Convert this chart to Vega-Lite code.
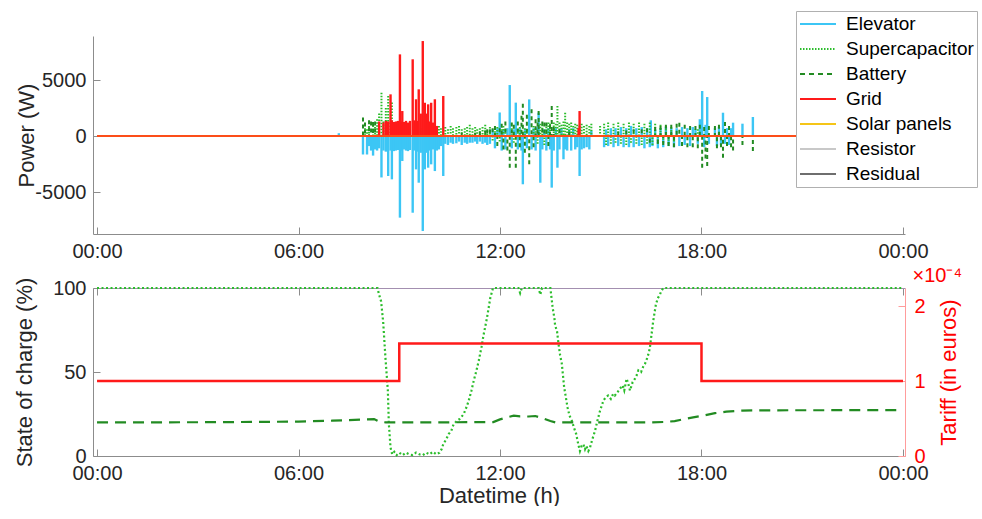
{
  "$schema": "https://vega.github.io/schema/vega-lite/v6.json",
  "padding": {"left": 13, "top": 10, "right": 0, "bottom": 0},
  "background": "white",
  "spacing": 5,
  "config": {
    "font": "Liberation Sans",
    "view": {"stroke": null},
    "axis": {
      "labelFont": "Liberation Sans", "titleFont": "Liberation Sans",
      "labelFontSize": 20, "titleFontSize": 22, "titleFontWeight": "normal",
      "labelColor": "#262626", "titleColor": "#262626",
      "domainColor": "#8c8c8c", "tickColor": "#8c8c8c", "grid": false,
      "tickSize": -7, "labelPadding": 14
    },
    "title": {"font": "Liberation Sans", "fontWeight": "normal"}
  },
  "datasets": {
    "power": [
      {"t": 7.2, "Elevator": 250},
      {"t": 7.92, "Elevator": -1650, "Battery": 1650},
      {"t": 7.98, "Supercapacitor": 700, "Battery": 1200},
      {"t": 8.04, "Elevator": -1650, "Supercapacitor": 600},
      {"t": 8.1, "Elevator": -900, "Supercapacitor": 900, "Battery": 1400},
      {"t": 8.16, "Elevator": -1300, "Battery": 1300},
      {"t": 8.22, "Elevator": -1750, "Supercapacitor": 1200, "Battery": 1250},
      {"t": 8.28, "Elevator": -1200, "Supercapacitor": 800, "Battery": 1300},
      {"t": 8.34, "Elevator": -1300, "Supercapacitor": 1500},
      {"t": 8.4, "Elevator": -1100, "Supercapacitor": 2000, "Grid": 1300},
      {"t": 8.47, "Elevator": -3700, "Supercapacitor": 3870},
      {"t": 8.53, "Elevator": -1300, "Supercapacitor": 1300, "Grid": 1200},
      {"t": 8.6, "Elevator": -1400, "Supercapacitor": 2500, "Grid": 1350},
      {"t": 8.67, "Elevator": -3570, "Supercapacitor": 3570, "Grid": 1300},
      {"t": 8.74, "Elevator": -1300, "Supercapacitor": 1200, "Grid": 3720},
      {"t": 8.78, "Elevator": -3870, "Supercapacitor": 3000, "Grid": 1400},
      {"t": 8.84, "Elevator": -1350, "Supercapacitor": 1100, "Grid": 1250},
      {"t": 8.9, "Elevator": -1300, "Supercapacitor": 1000, "Grid": 1300},
      {"t": 8.96, "Elevator": -1250, "Supercapacitor": 900, "Grid": 1350},
      {"t": 9.02, "Elevator": -7290, "Grid": 7290},
      {"t": 9.06, "Elevator": -1300, "Supercapacitor": 800, "Grid": 1300},
      {"t": 9.09, "Elevator": -2230, "Grid": 2230},
      {"t": 9.14, "Elevator": -1200, "Supercapacitor": 700, "Grid": 1250},
      {"t": 9.2, "Elevator": -1300, "Supercapacitor": 900, "Grid": 1350},
      {"t": 9.26, "Elevator": -1350, "Supercapacitor": 700, "Grid": 1200},
      {"t": 9.32, "Elevator": -1250, "Supercapacitor": 800, "Grid": 1350},
      {"t": 9.4, "Elevator": -6850, "Grid": 6850},
      {"t": 9.45, "Elevator": -1300, "Supercapacitor": 900, "Grid": 1400},
      {"t": 9.5, "Elevator": -2980, "Grid": 3280},
      {"t": 9.55, "Elevator": -1400, "Supercapacitor": 600, "Grid": 1350},
      {"t": 9.58, "Elevator": -4170, "Grid": 4170},
      {"t": 9.64, "Elevator": -1500, "Supercapacitor": 700, "Grid": 2000},
      {"t": 9.7, "Elevator": -8480, "Grid": 8480},
      {"t": 9.76, "Elevator": -2980, "Grid": 2970},
      {"t": 9.81, "Elevator": -1500, "Grid": 2000},
      {"t": 9.86, "Elevator": -2830, "Grid": 2830},
      {"t": 9.91, "Elevator": -1300, "Supercapacitor": 800, "Grid": 1300},
      {"t": 9.95, "Elevator": -2530, "Grid": 2970},
      {"t": 10.01, "Elevator": -1200, "Supercapacitor": 700, "Grid": 1200},
      {"t": 10.06, "Elevator": -3130, "Grid": 3280},
      {"t": 10.12, "Elevator": -1300, "Supercapacitor": 600, "Grid": 900},
      {"t": 10.18, "Elevator": -1200, "Supercapacitor": 900},
      {"t": 10.24, "Elevator": -900, "Supercapacitor": 700},
      {"t": 10.31, "Elevator": -3570, "Grid": 3570},
      {"t": 10.37, "Elevator": -700, "Supercapacitor": 800},
      {"t": 10.45, "Elevator": -800, "Supercapacitor": 600},
      {"t": 10.53, "Elevator": -600, "Supercapacitor": 900},
      {"t": 10.6, "Elevator": -700, "Supercapacitor": 700},
      {"t": 10.7, "Elevator": -650, "Supercapacitor": 800},
      {"t": 10.78, "Elevator": -500, "Supercapacitor": 900},
      {"t": 10.86, "Elevator": -800, "Supercapacitor": 600, "Battery": 300},
      {"t": 10.95, "Elevator": -600, "Supercapacitor": 700},
      {"t": 11.02, "Elevator": -700, "Supercapacitor": 800},
      {"t": 11.1, "Elevator": -600, "Supercapacitor": 1000},
      {"t": 11.18, "Elevator": -600, "Supercapacitor": 700},
      {"t": 11.26, "Elevator": -500, "Supercapacitor": 800, "Battery": 300},
      {"t": 11.32, "Elevator": -700, "Supercapacitor": 600},
      {"t": 11.4, "Elevator": -500, "Supercapacitor": 700, "Battery": 400},
      {"t": 11.48, "Elevator": -700, "Supercapacitor": 800},
      {"t": 11.56, "Elevator": -600, "Supercapacitor": 1000, "Battery": 500},
      {"t": 11.62, "Elevator": -800, "Supercapacitor": 500, "Battery": 600},
      {"t": 11.7, "Elevator": -700, "Supercapacitor": 800, "Battery": 600},
      {"t": 11.78, "Elevator": 600, "Supercapacitor": -400, "Battery": 700},
      {"t": 11.85, "Elevator": -1100, "Supercapacitor": 700, "Battery": 900},
      {"t": 11.92, "Elevator": 700, "Supercapacitor": 800, "Battery": -900},
      {"t": 11.99, "Elevator": 2100, "Supercapacitor": -500, "Battery": 700},
      {"t": 12.05, "Elevator": -1300, "Supercapacitor": 600, "Battery": 1100},
      {"t": 12.1, "Elevator": 600, "Supercapacitor": 900, "Battery": -1200},
      {"t": 12.16, "Elevator": -1200, "Supercapacitor": 600, "Battery": 1300},
      {"t": 12.22, "Elevator": 700, "Battery": -1300},
      {"t": 12.29, "Elevator": 4550, "Battery": -2830},
      {"t": 12.35, "Elevator": -1100, "Supercapacitor": 700, "Battery": 1200},
      {"t": 12.41, "Elevator": 600, "Supercapacitor": -600, "Battery": 1000},
      {"t": 12.47, "Elevator": 2980, "Battery": -2830},
      {"t": 12.53, "Elevator": -1200, "Supercapacitor": 600, "Battery": 1300},
      {"t": 12.59, "Elevator": 700, "Supercapacitor": 800, "Battery": -1000},
      {"t": 12.64, "Elevator": -1300, "Battery": 1800},
      {"t": 12.68, "Elevator": -4310, "Battery": 2890},
      {"t": 12.74, "Elevator": 600, "Supercapacitor": 700, "Battery": -1500},
      {"t": 12.8, "Elevator": -1100, "Supercapacitor": 600, "Battery": 1900},
      {"t": 12.87, "Elevator": 3270, "Battery": -2530},
      {"t": 12.94, "Elevator": -1200, "Battery": 2380},
      {"t": 13.0, "Elevator": 700, "Supercapacitor": 900, "Battery": -1000},
      {"t": 13.06, "Elevator": -1300, "Supercapacitor": 700, "Battery": 1500},
      {"t": 13.12, "Elevator": 800, "Supercapacitor": -700, "Battery": 1200},
      {"t": 13.15, "Elevator": 2080, "Battery": 2230},
      {"t": 13.2, "Elevator": -4170, "Supercapacitor": 1100},
      {"t": 13.26, "Elevator": -1200, "Supercapacitor": 1000, "Battery": 1300},
      {"t": 13.32, "Elevator": 600, "Supercapacitor": -800, "Battery": 1200},
      {"t": 13.38, "Elevator": -1300, "Supercapacitor": 1100, "Battery": 1200},
      {"t": 13.44, "Elevator": 700, "Supercapacitor": 1200, "Battery": -900},
      {"t": 13.49, "Elevator": -1200, "Supercapacitor": 1100, "Battery": 1000},
      {"t": 13.54, "Elevator": -4610, "Battery": 2680},
      {"t": 13.6, "Elevator": -1300, "Supercapacitor": 1200, "Battery": 800},
      {"t": 13.66, "Elevator": 700, "Supercapacitor": 1100},
      {"t": 13.71, "Elevator": -2830, "Supercapacitor": 2680},
      {"t": 13.77, "Elevator": -1200, "Supercapacitor": 1200, "Battery": 600},
      {"t": 13.83, "Elevator": 700, "Supercapacitor": 1000},
      {"t": 13.89, "Elevator": -2080, "Supercapacitor": 1300},
      {"t": 13.94, "Elevator": -1200, "Supercapacitor": 2080},
      {"t": 14.0, "Elevator": -1300, "Supercapacitor": 1200},
      {"t": 14.06, "Elevator": 600, "Supercapacitor": 1100, "Battery": 400},
      {"t": 14.12, "Elevator": -1300, "Supercapacitor": 1200},
      {"t": 14.18, "Elevator": 700, "Supercapacitor": 900},
      {"t": 14.24, "Elevator": -1200, "Supercapacitor": 1100},
      {"t": 14.3, "Elevator": -1000, "Supercapacitor": 1000},
      {"t": 14.34, "Grid": 700},
      {"t": 14.37, "Elevator": -3570, "Supercapacitor": 900, "Grid": 2230},
      {"t": 14.43, "Elevator": -1200, "Supercapacitor": 1100},
      {"t": 14.5, "Elevator": -1100, "Supercapacitor": 900},
      {"t": 14.58, "Elevator": -1000, "Supercapacitor": 1000},
      {"t": 14.66, "Elevator": -1200, "Supercapacitor": 900},
      {"t": 14.72, "Elevator": 500, "Supercapacitor": 1100},
      {"t": 14.98, "Supercapacitor": 900},
      {"t": 15.1, "Elevator": -1000, "Supercapacitor": 1100},
      {"t": 15.16, "Elevator": 600, "Supercapacitor": -800},
      {"t": 15.22, "Elevator": -900, "Supercapacitor": 1200},
      {"t": 15.3, "Elevator": 700, "Supercapacitor": -700},
      {"t": 15.38, "Elevator": -1000, "Supercapacitor": 1100},
      {"t": 15.44, "Elevator": 700, "Supercapacitor": -600},
      {"t": 15.52, "Elevator": -900, "Supercapacitor": 1200, "Battery": 400},
      {"t": 15.6, "Elevator": 800, "Supercapacitor": -700},
      {"t": 15.68, "Elevator": -1000, "Supercapacitor": 1100},
      {"t": 15.76, "Elevator": 700, "Supercapacitor": -800, "Battery": 500},
      {"t": 15.84, "Elevator": -1000, "Supercapacitor": 1200},
      {"t": 15.9, "Elevator": 900, "Supercapacitor": -600},
      {"t": 15.98, "Elevator": -1000, "Supercapacitor": 1100, "Battery": 600},
      {"t": 16.06, "Elevator": 700, "Supercapacitor": -700},
      {"t": 16.14, "Elevator": -900, "Supercapacitor": 1200},
      {"t": 16.22, "Elevator": 800, "Supercapacitor": -800, "Battery": 600},
      {"t": 16.3, "Elevator": -1100, "Supercapacitor": 1100},
      {"t": 16.38, "Elevator": 700, "Supercapacitor": -700, "Battery": 700},
      {"t": 16.46, "Elevator": -1000, "Supercapacitor": 1200, "Battery": -600},
      {"t": 16.49, "Elevator": 1400},
      {"t": 16.54, "Elevator": -900, "Supercapacitor": -800},
      {"t": 16.62, "Elevator": 600, "Supercapacitor": 1100, "Battery": 800},
      {"t": 16.7, "Elevator": -1100, "Supercapacitor": -700, "Battery": -700},
      {"t": 16.78, "Elevator": 700, "Supercapacitor": 1000, "Battery": 900},
      {"t": 16.86, "Elevator": -1000, "Supercapacitor": -600, "Battery": -800},
      {"t": 16.94, "Elevator": 800, "Supercapacitor": 900, "Battery": 1000},
      {"t": 17.02, "Elevator": -900, "Supercapacitor": -700, "Battery": -900},
      {"t": 17.1, "Elevator": 700, "Supercapacitor": 800, "Battery": 1000},
      {"t": 17.18, "Elevator": -1000, "Supercapacitor": -500, "Battery": -1000},
      {"t": 17.26, "Elevator": 700, "Battery": 1100},
      {"t": 17.34, "Elevator": -900, "Battery": 1190},
      {"t": 17.42, "Elevator": 800, "Battery": -900},
      {"t": 17.5, "Elevator": -800, "Battery": 1000},
      {"t": 17.58, "Elevator": 700, "Battery": -1000},
      {"t": 17.66, "Elevator": -900, "Battery": 900},
      {"t": 17.74, "Elevator": 800, "Battery": -1000},
      {"t": 17.82, "Elevator": 600, "Battery": 900},
      {"t": 17.89, "Elevator": -700, "Supercapacitor": 600, "Battery": -1100},
      {"t": 17.95, "Elevator": 1500, "Battery": 1000},
      {"t": 18.02, "Elevator": 4020, "Battery": -2830},
      {"t": 18.08, "Elevator": -1000, "Battery": 800},
      {"t": 18.12, "Elevator": 1000, "Battery": -2000},
      {"t": 18.17, "Elevator": 3480, "Battery": -2680},
      {"t": 18.22, "Elevator": -700, "Battery": 900},
      {"t": 18.4, "Elevator": 700, "Battery": 900},
      {"t": 18.46, "Elevator": -900, "Battery": -1100},
      {"t": 18.52, "Elevator": 800, "Battery": 1000},
      {"t": 18.58, "Elevator": -800, "Battery": -1000},
      {"t": 18.64, "Elevator": 2080, "Battery": -1940},
      {"t": 18.7, "Elevator": -700, "Battery": 1250},
      {"t": 18.76, "Elevator": 700, "Battery": -900},
      {"t": 18.82, "Elevator": -800, "Battery": 900},
      {"t": 18.88, "Elevator": 700, "Battery": -1000},
      {"t": 18.94, "Elevator": 1190, "Battery": -1300},
      {"t": 19.22, "Elevator": 1100, "Battery": -800},
      {"t": 19.53, "Elevator": 1700, "Battery": -1340}
    ],
    "flat": [
      {"t": 0, "Grid": 0, "Solar": 0, "Resistor": 0, "Residual": 0},
      {"t": 24, "Grid": 0, "Solar": 0, "Resistor": 0, "Residual": 0}
    ],
    "supercapSOC": [
      {"t": 0, "soc": 100}, {"t": 8.35, "soc": 100}, {"t": 8.4, "soc": 96}, {"t": 8.46, "soc": 92},
      {"t": 8.52, "soc": 80}, {"t": 8.59, "soc": 58}, {"t": 8.66, "soc": 39}, {"t": 8.69, "soc": 19},
      {"t": 8.74, "soc": 5}, {"t": 8.79, "soc": 1}, {"t": 8.85, "soc": 2.5}, {"t": 8.92, "soc": 0.5},
      {"t": 9.0, "soc": 2}, {"t": 9.1, "soc": 0.5}, {"t": 9.2, "soc": 2}, {"t": 9.3, "soc": 1},
      {"t": 9.4, "soc": 0.5}, {"t": 9.5, "soc": 2}, {"t": 9.6, "soc": 1}, {"t": 9.7, "soc": 0.5},
      {"t": 9.8, "soc": 2}, {"t": 9.9, "soc": 1}, {"t": 10.0, "soc": 2.5}, {"t": 10.1, "soc": 1},
      {"t": 10.2, "soc": 2}, {"t": 10.26, "soc": 4}, {"t": 10.31, "soc": 7}, {"t": 10.4, "soc": 10},
      {"t": 10.47, "soc": 13}, {"t": 10.55, "soc": 15}, {"t": 10.62, "soc": 19}, {"t": 10.72, "soc": 21},
      {"t": 10.8, "soc": 22}, {"t": 10.92, "soc": 25}, {"t": 11.0, "soc": 29}, {"t": 11.07, "soc": 33},
      {"t": 11.15, "soc": 39}, {"t": 11.22, "soc": 45}, {"t": 11.3, "soc": 51}, {"t": 11.37, "soc": 57},
      {"t": 11.45, "soc": 65}, {"t": 11.51, "soc": 72}, {"t": 11.56, "soc": 77}, {"t": 11.61, "soc": 82},
      {"t": 11.66, "soc": 88}, {"t": 11.71, "soc": 94}, {"t": 11.79, "soc": 100}, {"t": 12.55, "soc": 100},
      {"t": 12.6, "soc": 97}, {"t": 12.65, "soc": 100}, {"t": 13.15, "soc": 100}, {"t": 13.2, "soc": 96},
      {"t": 13.25, "soc": 100}, {"t": 13.5, "soc": 100}, {"t": 13.57, "soc": 88}, {"t": 13.62, "soc": 82},
      {"t": 13.64, "soc": 78}, {"t": 13.7, "soc": 74}, {"t": 13.74, "soc": 67}, {"t": 13.79, "soc": 60},
      {"t": 13.84, "soc": 55}, {"t": 13.91, "soc": 41}, {"t": 13.96, "soc": 35}, {"t": 14.01, "soc": 29},
      {"t": 14.07, "soc": 24}, {"t": 14.14, "soc": 21}, {"t": 14.2, "soc": 17}, {"t": 14.27, "soc": 13},
      {"t": 14.33, "soc": 7}, {"t": 14.38, "soc": 3}, {"t": 14.43, "soc": 6}, {"t": 14.48, "soc": 7},
      {"t": 14.53, "soc": 4}, {"t": 14.57, "soc": 6}, {"t": 14.63, "soc": 3}, {"t": 14.68, "soc": 5},
      {"t": 14.75, "soc": 10}, {"t": 14.83, "soc": 15}, {"t": 14.9, "soc": 21}, {"t": 14.98, "soc": 27},
      {"t": 15.08, "soc": 33}, {"t": 15.15, "soc": 35}, {"t": 15.22, "soc": 36}, {"t": 15.3, "soc": 34},
      {"t": 15.37, "soc": 37}, {"t": 15.42, "soc": 36}, {"t": 15.5, "soc": 38}, {"t": 15.57, "soc": 40},
      {"t": 15.65, "soc": 42}, {"t": 15.7, "soc": 39}, {"t": 15.77, "soc": 46}, {"t": 15.82, "soc": 43},
      {"t": 15.87, "soc": 39}, {"t": 15.95, "soc": 44}, {"t": 16.02, "soc": 46}, {"t": 16.07, "soc": 48},
      {"t": 16.12, "soc": 51}, {"t": 16.2, "soc": 50}, {"t": 16.26, "soc": 53}, {"t": 16.32, "soc": 55},
      {"t": 16.36, "soc": 57}, {"t": 16.41, "soc": 60}, {"t": 16.46, "soc": 64}, {"t": 16.51, "soc": 72},
      {"t": 16.56, "soc": 80}, {"t": 16.6, "soc": 85}, {"t": 16.64, "soc": 90}, {"t": 16.7, "soc": 94},
      {"t": 16.76, "soc": 96}, {"t": 16.8, "soc": 98}, {"t": 16.86, "soc": 100}, {"t": 24, "soc": 100}
    ],
    "batterySOC": [
      {"t": 0, "soc": 20}, {"t": 3, "soc": 20.1}, {"t": 5, "soc": 20.3}, {"t": 6, "soc": 20.5},
      {"t": 7, "soc": 21}, {"t": 7.5, "soc": 21.4}, {"t": 7.95, "soc": 21.8}, {"t": 8.25, "soc": 22},
      {"t": 8.35, "soc": 21}, {"t": 8.42, "soc": 20.3}, {"t": 8.6, "soc": 20}, {"t": 10, "soc": 20},
      {"t": 11.8, "soc": 20.2}, {"t": 12.0, "soc": 21.8}, {"t": 12.2, "soc": 23}, {"t": 12.41, "soc": 24},
      {"t": 12.6, "soc": 23.6}, {"t": 12.85, "soc": 23.5}, {"t": 13.05, "soc": 23.8}, {"t": 13.3, "soc": 22.2},
      {"t": 13.5, "soc": 20.8}, {"t": 13.65, "soc": 20}, {"t": 16.5, "soc": 20}, {"t": 16.95, "soc": 20.3},
      {"t": 17.2, "soc": 20.8}, {"t": 17.45, "soc": 21.8}, {"t": 17.75, "soc": 23}, {"t": 18.05, "soc": 24},
      {"t": 18.4, "soc": 25.5}, {"t": 18.74, "soc": 26.4}, {"t": 19.2, "soc": 27}, {"t": 19.73, "soc": 27.2},
      {"t": 24, "soc": 27.3}
    ],
    "tariff": [
      {"t": 0, "tariff": 0.0001}, {"t": 9, "tariff": 0.00015}, {"t": 18, "tariff": 0.0001}, {"t": 24, "tariff": 0.0001}
    ]
  },
  "vconcat": [
    {
      "width": 812,
      "height": 198,
      "encoding": {
        "x": {
          "field": "t", "type": "quantitative",
          "scale": {"domain": [-0.12, 24.06], "nice": false, "zero": false},
          "axis": {"values": [0, 6, 12, 18, 24], "labelExpr": "(datum.value % 24 < 10 ? '0' : '') + (datum.value % 24) + ':00'", "title": null}
        }
      },
      "layer": [
        {
          "data": {"name": "power"},
          "mark": {"type": "rule", "strokeWidth": 2.4},
          "encoding": {
            "y": {"field": "Elevator", "type": "quantitative", "scale": {"domain": [-8750, 8930], "nice": false, "zero": false}, "axis": {"values": [-5000, 0, 5000], "labelExpr": "'' + datum.value", "title": "Power (W)", "titlePadding": -4}},
            "y2": {"datum": 0},
            "color": {
              "datum": "Elevator",
              "scale": {
                "domain": ["Elevator", "Supercapacitor", "Battery", "Grid", "Solar panels", "Resistor", "Residual"],
                "range": ["#3cc6f5", "#2bbd2b", "#228b22", "#ff1a1a", "#f5c518", "#c8c8c8", "#6e6e6e"]
              },
              "legend": {
                "orient": "none", "legendX": 703, "legendY": -25, "title": null,
                "symbolType": "stroke", "symbolSize": 1296, "symbolStrokeWidth": 2, "clipHeight": 20,
                "labelFontSize": 19, "labelFont": "Liberation Sans", "labelColor": "#000000", "labelOffset": 9,
                "rowPadding": 5, "padding": 3, "strokeColor": "#b0b0b0", "fillColor": "white", "labelLimit": 300,
                "encode": {"symbols": {"update": {"strokeDash": {"signal": "datum.value === 'Battery' ? [5, 4] : datum.value === 'Supercapacitor' ? [1.5, 1.5] : [1, 0]"}}}}
              }
            }
          }
        },
        {
          "data": {"name": "power"},
          "mark": {"type": "rule", "strokeWidth": 2, "strokeDash": [1.5, 1.5]},
          "encoding": {
            "y": {"field": "Supercapacitor", "type": "quantitative", "axis": {"values": [-5000, 0, 5000], "labelExpr": "'' + datum.value", "title": "Power (W)", "titlePadding": -4}},
            "y2": {"datum": 0},
            "color": {"datum": "Supercapacitor"}
          }
        },
        {
          "data": {"name": "power"},
          "mark": {"type": "rule", "strokeWidth": 2, "strokeDash": [4, 3]},
          "encoding": {
            "y": {"field": "Battery", "type": "quantitative", "axis": {"values": [-5000, 0, 5000], "labelExpr": "'' + datum.value", "title": "Power (W)", "titlePadding": -4}},
            "y2": {"datum": 0},
            "color": {"datum": "Battery"}
          }
        },
        {
          "data": {"name": "power"},
          "mark": {"type": "rule", "strokeWidth": 2.4},
          "encoding": {
            "y": {"field": "Grid", "type": "quantitative", "axis": {"values": [-5000, 0, 5000], "labelExpr": "'' + datum.value", "title": "Power (W)", "titlePadding": -4}},
            "y2": {"datum": 0},
            "color": {"datum": "Grid"}
          }
        },
        {
          "data": {"name": "flat"},
          "mark": {"type": "line", "strokeWidth": 1.5},
          "encoding": {
            "y": {"field": "Resistor", "type": "quantitative", "axis": {"values": [-5000, 0, 5000], "labelExpr": "'' + datum.value", "title": "Power (W)", "titlePadding": -4}},
            "color": {"datum": "Resistor"}
          }
        },
        {
          "data": {"name": "flat"},
          "mark": {"type": "line", "strokeWidth": 1.5},
          "encoding": {
            "y": {"field": "Residual", "type": "quantitative", "axis": {"values": [-5000, 0, 5000], "labelExpr": "'' + datum.value", "title": "Power (W)", "titlePadding": -4}},
            "color": {"datum": "Residual"}
          }
        },
        {
          "data": {"name": "flat"},
          "mark": {"type": "line", "strokeWidth": 2},
          "encoding": {
            "y": {"field": "Grid", "type": "quantitative", "axis": {"values": [-5000, 0, 5000], "labelExpr": "'' + datum.value", "title": "Power (W)", "titlePadding": -4}},
            "color": {"datum": "Grid"}
          }
        },
        {
          "data": {"name": "flat"},
          "mark": {"type": "line", "strokeWidth": 1, "opacity": 0.6},
          "encoding": {
            "y": {"field": "Solar", "type": "quantitative", "axis": {"values": [-5000, 0, 5000], "labelExpr": "'' + datum.value", "title": "Power (W)", "titlePadding": -4}},
            "color": {"datum": "Solar panels"}
          }
        }
      ]
    },
    {
      "width": 812,
      "height": 168,
      "title": {"text": "×10⁻⁴", "anchor": "end", "frame": "group", "color": "#ff0000", "fontSize": 20, "fontWeight": "normal", "dx": 57, "offset": -29, "baseline": "bottom"},
      "layer": [
        {
          "data": {"name": "supercapSOC"},
          "mark": {"type": "line", "strokeWidth": 2.2, "strokeDash": [2, 2.5], "color": "#2bbd2b"},
          "encoding": {
            "x": {
              "field": "t", "type": "quantitative",
              "scale": {"domain": [-0.12, 24.06], "nice": false, "zero": false},
              "axis": {"values": [0, 6, 12, 18, 24], "labelExpr": "(datum.value % 24 < 10 ? '0' : '') + (datum.value % 24) + ':00'", "title": "Datetime (h)", "titlePadding": 2}
            },
            "y": {"field": "soc", "type": "quantitative", "scale": {"domain": [0, 100], "nice": false}, "axis": {"values": [0, 50, 100], "title": "State of charge (%)", "titlePadding": 16}}
          }
        },
        {
          "data": {"name": "batterySOC"},
          "mark": {"type": "line", "strokeWidth": 2.2, "strokeDash": [11, 7], "color": "#228b22"},
          "encoding": {
            "x": {"field": "t", "type": "quantitative", "axis": null},
            "y": {"field": "soc", "type": "quantitative", "scale": {"domain": [0, 100], "nice": false}, "axis": null}
          }
        },
        {
          "data": {"name": "tariff"},
          "mark": {"type": "line", "interpolate": "step-after", "strokeWidth": 2.5, "color": "#ff1a1a"},
          "encoding": {
            "x": {"field": "t", "type": "quantitative", "axis": {"orient": "top", "values": [0, 6, 12, 18, 24], "labels": false, "title": null, "domainColor": "#a38fb0", "minExtent": 0, "maxExtent": 0}},
            "y": {
              "field": "tariff", "type": "quantitative",
              "scale": {"domain": [0, 0.000224], "nice": false, "zero": true},
              "axis": {"orient": "right", "values": [0, 0.0001, 0.0002], "labelExpr": "round(datum.value * 10000)", "title": "Tariff (in euros)", "titleAngle": 270, "titleBaseline": "top", "titlePadding": 13, "domainColor": "#ff9c9c", "tickColor": "#ff9c9c", "labelColor": "#ff0000", "titleColor": "#ff0000", "labelPadding": 16}
            }
          }
        }
      ],
      "resolve": {"scale": {"y": "independent"}, "axis": {"x": "independent", "y": "independent"}}
    }
  ]
}
